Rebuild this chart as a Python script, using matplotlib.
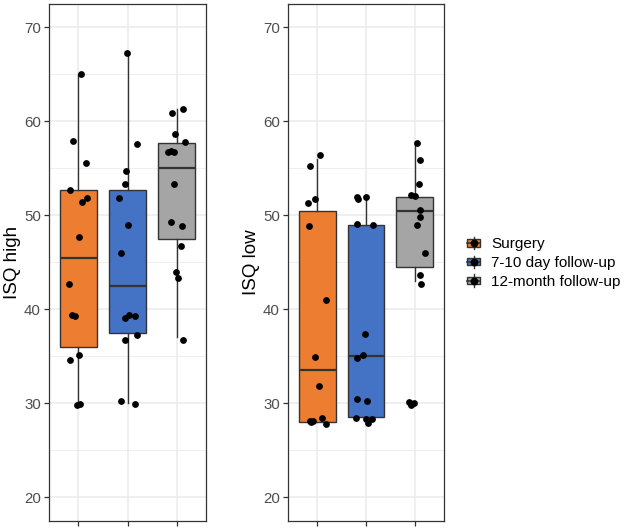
import matplotlib
matplotlib.use("Agg")
import matplotlib.pyplot as plt
from matplotlib.patches import Patch, Rectangle
from matplotlib.lines import Line2D
from matplotlib.legend_handler import HandlerBase
import numpy as np

plt.rcParams['font.family'] = ['Liberation Sans', 'DejaVu Sans']

groups = ["Surgery", "7-10 day follow-up", "12-month follow-up"]
colors = ["#ED7D31", "#4472C4", "#A5A5A5"]
ylabels = ["ISQ high", "ISQ low"]
yticks = [20, 30, 40, 50, 60, 70]

# Box statistics: [whislo, q1, med, q3, whishi]
high_box = [
    [29.9, 36.0, 45.5, 52.7, 65.0],
    [30.0, 37.5, 42.5, 52.7, 67.3],
    [37.0, 47.5, 55.0, 57.75, 61.3],
]
low_box = [
    [28.0, 28.0, 33.5, 50.5, 56.0],
    [28.5, 28.5, 35.0, 49.0, 52.0],
    [43.0, 44.5, 50.5, 52.0, 57.7],
]

# Jittered points (values) and their horizontal jitter offsets
high_surgery = [65.0, 57.9, 55.6, 52.7, 51.8, 51.4, 47.7, 42.7, 39.4, 39.3, 35.1, 34.6, 29.8, 29.95]
high_surgery_dx = [0.05, -0.12, 0.16, -0.18, 0.17, 0.07, 0.02, -0.19, -0.13, -0.06, 0.02, -0.17, -0.03, 0.03]
high_day = [67.3, 57.6, 54.7, 53.3, 51.8, 49.0, 46.0, 39.4, 39.1, 39.3, 37.2, 36.7, 30.2, 29.9]
high_day_dx = [-0.01, 0.20, -0.03, -0.05, -0.17, 0.0, -0.14, 0.03, -0.05, 0.16, 0.20, -0.05, -0.14, 0.15]
high_month = [61.3, 60.9, 58.7, 57.8, 56.7, 56.8, 56.7, 53.3, 49.3, 48.9, 46.7, 44.0, 43.3, 36.7]
high_month_dx = [0.13, -0.10, -0.03, 0.17, -0.18, -0.11, -0.05, -0.05, -0.11, 0.11, 0.09, -0.01, 0.03, 0.14]

low_surgery = [56.4, 55.3, 51.7, 51.3, 48.9, 41.0, 34.9, 31.8, 28.4, 28.05, 28.1, 27.8, 27.95]
low_surgery_dx = [0.06, -0.15, -0.05, -0.20, -0.17, 0.17, -0.04, 0.04, 0.09, -0.15, -0.08, 0.18, -0.12]
low_day = [52.0, 51.7, 52.0, 49.1, 49.0, 37.4, 35.1, 34.8, 30.4, 30.2, 28.45, 28.35, 27.9, 28.35]
low_day_dx = [-0.18, -0.16, 0.01, -0.18, 0.14, -0.03, -0.06, -0.19, -0.19, 0.03, -0.20, 0.01, 0.05, 0.13]
low_month = [57.7, 55.9, 53.3, 52.2, 52.1, 50.6, 49.8, 49.0, 46.0, 43.6, 42.7, 30.1, 29.8, 30.0]
low_month_dx = [0.04, 0.11, 0.09, -0.08, 0.01, 0.10, 0.11, 0.05, 0.20, 0.11, 0.13, -0.12, -0.08, -0.01]

panels = [
    (high_box, [(high_surgery, high_surgery_dx), (high_day, high_day_dx), (high_month, high_month_dx)]),
    (low_box, [(low_surgery, low_surgery_dx), (low_day, low_day_dx), (low_month, low_month_dx)]),
]

W, H = 624, 528
fig = plt.figure(figsize=(W / 100, H / 100), dpi=100)
ax_rects = [
    (49 / W, 1 - 520.5 / H, 157 / W, 516.5 / H),
    (288 / W, 1 - 520.5 / H, 156 / W, 516.5 / H),
]

edge = "#333333"
for (box, pts), rect, ylab in zip(panels, ax_rects, ylabels):
    ax = fig.add_axes(rect)
    stats = []
    for b, g in zip(box, groups):
        stats.append(dict(whislo=b[0], q1=b[1], med=b[2], q3=b[3], whishi=b[4], label=g))
    bp = ax.bxp(stats, positions=[1, 2, 3], widths=0.75, patch_artist=True,
                showfliers=False, showcaps=False,
                boxprops=dict(edgecolor=edge, linewidth=1.0),
                whiskerprops=dict(color=edge, linewidth=1.0),
                medianprops=dict(color=edge, linewidth=1.6))
    for patch, c in zip(bp['boxes'], colors):
        patch.set_facecolor(c)
    for i, (vals, dx) in enumerate(pts):
        xs = np.array(dx) + (i + 1)
        ax.scatter(xs, vals, s=24, color="black", zorder=5, linewidths=0)
    ax.set_xlim(0.4, 3.6)
    ax.set_ylim(17.5, 72.5)
    ax.set_yticks(yticks)
    ax.set_yticks(np.arange(25, 70, 10), minor=True)
    ax.set_xticks([1, 2, 3])
    ax.set_xticklabels([])
    ax.grid(True, which='major', color="#EBEBEB", linewidth=1.1, zorder=0)
    ax.grid(True, which='minor', axis='y', color="#EBEBEB", linewidth=0.55, zorder=0)
    ax.set_axisbelow(True)
    ax.tick_params(axis='both', which='major', length=3.8, width=0.9, color=edge,
                   labelsize=10.8, labelcolor="#4D4D4D", pad=2)
    ax.tick_params(axis='y', which='minor', length=0)
    for sp in ax.spines.values():
        sp.set_color(edge)
        sp.set_linewidth(0.9)
    ax.set_ylabel(ylab, fontsize=13.5, color="black", labelpad=2.5)


class BoxKeyHandler(HandlerBase):
    def create_artists(self, legend, orig_handle, xdescent, ydescent, width, height, fontsize, trans):
        fc = orig_handle.get_facecolor()
        x0, y0 = -xdescent, -ydescent
        cx, cy = x0 + width / 2, y0 + height / 2
        artists = [
            Line2D([cx, cx], [y0 + 0.1 * height, y0 + 0.25 * height], color=edge, lw=1.0),
            Line2D([cx, cx], [y0 + 0.75 * height, y0 + 0.9 * height], color=edge, lw=1.0),
            Rectangle((x0 + 0.125 * width, y0 + 0.25 * height), 0.75 * width, 0.5 * height,
                      facecolor=fc, edgecolor=edge, lw=1.0),
            Line2D([x0 + 0.125 * width, x0 + 0.875 * width], [cy, cy], color=edge, lw=1.2),
            Line2D([cx], [cy], marker='o', markersize=4.6, color='black', linestyle='none'),
        ]
        for a in artists:
            a.set_transform(trans)
        return artists


handles = [Patch(facecolor=c, label=g) for c, g in zip(colors, groups)]
fig.legend(handles=handles, labels=groups, handler_map={Patch: BoxKeyHandler()},
           loc='center left', bbox_to_anchor=(465 / W, 1 - 262 / H), frameon=False,
           fontsize=11, handlelength=1.15, handleheight=1.15, handletextpad=0.55,
           labelspacing=0.2, borderpad=0, borderaxespad=0)

fig.savefig("out.png", dpi=100, facecolor="white")
